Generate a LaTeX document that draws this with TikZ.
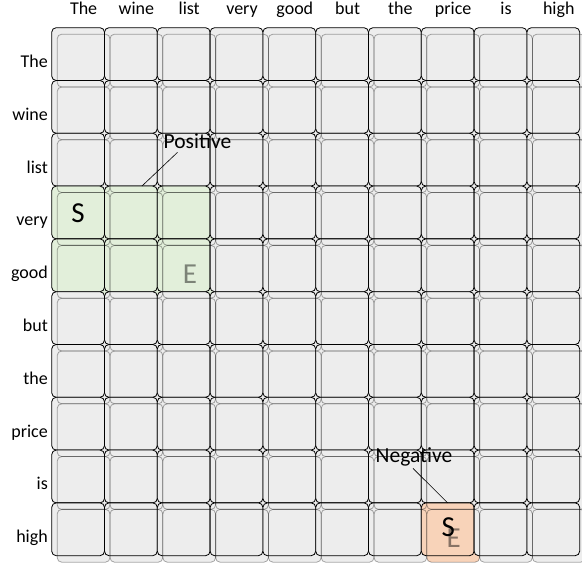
\documentclass[tikz,border=0pt]{standalone}
\usepackage{fontspec}
\setmainfont{Carlito}
\usetikzlibrary{positioning}

\definecolor{cellgray}{HTML}{EDEDED}
\definecolor{posgreen}{HTML}{E2EFDA}
\definecolor{neggold}{HTML}{F8D3B9}

\tikzset{
  cellbox/.style={rounded corners=4.5pt, minimum size=52.8pt, inner sep=0pt, outer sep=0pt},
  backfill/.style={cellbox, fill=#1},
  frontbox/.style={cellbox, fill=#1, draw=black, line width=0.8pt},
  backline/.style={cellbox, draw=black, draw opacity=0.33, line width=0.8pt},
  wordlabel/.style={font=\fontsize{18}{20}\selectfont, inner sep=0pt},
  spanmark/.style={font=\fontsize{29}{32}\selectfont, inner sep=0pt},
  callout/.style={font=\fontsize{21.5}{24}\selectfont, inner sep=0pt},
}

\begin{document}
\begin{tikzpicture}[x=1pt, y=-1pt]
    \useasboundingbox (0,0) rectangle (582,564);

    % Back layer (offset copy of the grid)
    \foreach \c in {0,...,9} {
      \foreach \r in {0,...,9} {
        \pgfmathsetmacro{\tint}{(\c<3 && (\r==3 || \r==4)) ? "posgreen" : ((\c==7 && \r==9) ? "neggold" : "cellgray")}
        \node[backfill=\tint] (s-\c-\r) at (83.6+52.8*\c, 60.6+52.8*\r) {};
      }
    }

    % Front layer
    \foreach \c in {0,...,9} {
      \foreach \r in {0,...,9} {
        \pgfmathsetmacro{\tint}{(\c<3 && (\r==3 || \r==4)) ? "posgreen" : ((\c==7 && \r==9) ? "neggold" : "cellgray")}
        \node[frontbox=\tint] (c-\c-\r) at (78.1+52.8*\c, 54.1+52.8*\r) {};
      }
    }

    % Outlines of the back layer, seen through
    \foreach \c in {0,...,9} {
      \foreach \r in {0,...,9} {
        \node[backline] at (s-\c-\r) {};
      }
    }

    % Words along the top and the left
    \foreach \w [count=\i from 0] in {The,wine,list,very,good,but,the,price,is,high} {
      \node[wordlabel, anchor=base] (col-\i) at (83.6+52.8*\i, 15) {\w};
      \node[wordlabel, anchor=base east] (row-\i) at (48, 67.5+52.8*\i) {\w};
    }

    % Start and end marks
    \node[spanmark] (pos-s) at ([shift={(0,0.5)}]c-0-3.center) {S};
    \node[spanmark, text=black, text opacity=0.45] (pos-e) at ([shift={(0.8,2.2)}]s-2-4.center) {E};
    \node[spanmark, text=black, text opacity=0.45] (neg-e) at ([shift={(0.5,2.5)}]s-7-9.center) {E};
    \node[spanmark] (neg-s) at ([shift={(0.6,-2)}]c-7-9.center) {S};

    % Polarity callouts
    \node[callout, anchor=base] (pos) at (197.5,149) {Positive};
    \draw[line width=0.6pt] ([shift={(-20,3)}]pos.south) -- ([xshift=11pt]c-1-3.north);
    \node[callout, anchor=base] (neg) at (414,463) {Negative};
    \draw[line width=0.6pt] ([shift={(-1,1.5)}]neg.south) -- (c-7-9.north);
\end{tikzpicture}
\end{document}
